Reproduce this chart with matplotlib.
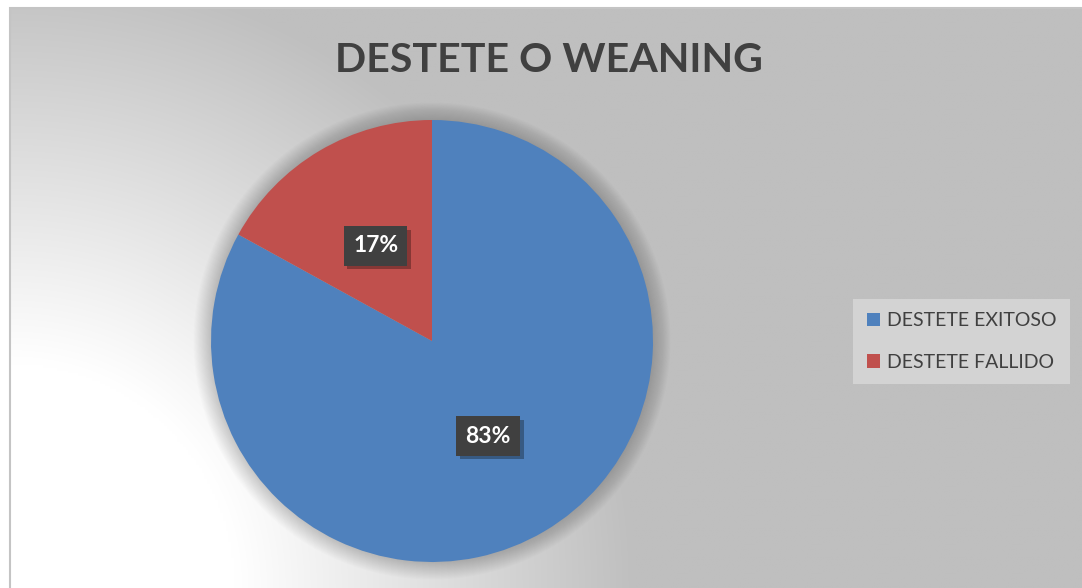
import numpy as np
import matplotlib
matplotlib.use("Agg")
import matplotlib.pyplot as plt
from matplotlib.patches import Circle
import matplotlib.patheffects as pe

# data
categories = ["DESTETE EXITOSO", "DESTETE FALLIDO"]
values = [83, 17]
colors = ["#4f81bd", "#c0504d"]
title = "DESTETE O WEANING"

W, H = 1082, 588
fig = plt.figure(figsize=(W / 100, H / 100), dpi=100)
fig.patch.set_facecolor("white")
ax = fig.add_axes([0, 0, 1, 1])
ax.set_xlim(0, W)
ax.set_ylim(0, H)
ax.axis("off")

# chart area: radial gradient, white in the lower-left corner fading to gray
left, top = 10, 580
xs = np.linspace(left, W, 400)
ys = np.linspace(0, top, 220)
gx, gy = np.meshgrid(xs, ys)
d = np.hypot(gx - left, gy - 0)
t = np.clip((d - 225) / 400, 0, 1)
shade = 1.0 - t * (1.0 - 191 / 255)
img = np.dstack([shade, shade, shade])
ax.imshow(img, extent=[left, W, 0, top], origin="lower", aspect="auto",
          interpolation="bilinear", zorder=0)
# chart border (left and top edges only, the rest is cut off)
ax.plot([left, left, W], [0, top, top], color="#c4c4c4", lw=1.5, zorder=1,
        solid_joinstyle="miter")

# pie with a soft halo behind it
cx, cy, r = 432, 247, 221
for i in range(16):
    ax.add_patch(Circle((cx, cy), r + 1 + i * 1.1, fc="black", ec="none",
                        alpha=0.011, zorder=2))

wedges, texts, autotexts = ax.pie(
    values, colors=colors, startangle=90, counterclock=False,
    center=(cx, cy), radius=r, pctdistance=0.5,
    autopct=lambda p: f"{p:.0f}%",
    wedgeprops=dict(linewidth=0, zorder=3),
    textprops=dict(color="white", fontsize=16.5, fontweight="bold",
                   family="Lato"))
ax.set_xlim(0, W)
ax.set_ylim(0, H)
ax.set_aspect("auto")

for at in autotexts:
    at.set_zorder(5)
    at.set_bbox(dict(boxstyle="square,pad=0.4", fc="#404040", ec="none"))
    at.get_bbox_patch().set_path_effects(
        [pe.SimplePatchShadow(offset=(2.5, -2.5), shadow_rgbFace="black", alpha=0.3),
         pe.Normal()])

ax.text(549, 527, title, ha="center", va="center", fontsize=29.6,
        fontweight="bold", color="#404040", family="Lato", zorder=5)

leg = ax.legend(wedges, categories, loc="center left",
                bbox_to_anchor=(853 / W, 1 - 341.5 / H),
                bbox_transform=fig.transFigure,
                frameon=True, fancybox=False, framealpha=1,
                facecolor="#d3d3d3", edgecolor="none",
                prop=dict(family="Lato", size=14),
                handlelength=0.7, handleheight=0.7, handletextpad=0.35,
                labelspacing=1.25, borderpad=0.7, borderaxespad=0)
for t_ in leg.get_texts():
    t_.set_color("#404040")

fig.savefig("out.png", dpi=100, facecolor="white")
